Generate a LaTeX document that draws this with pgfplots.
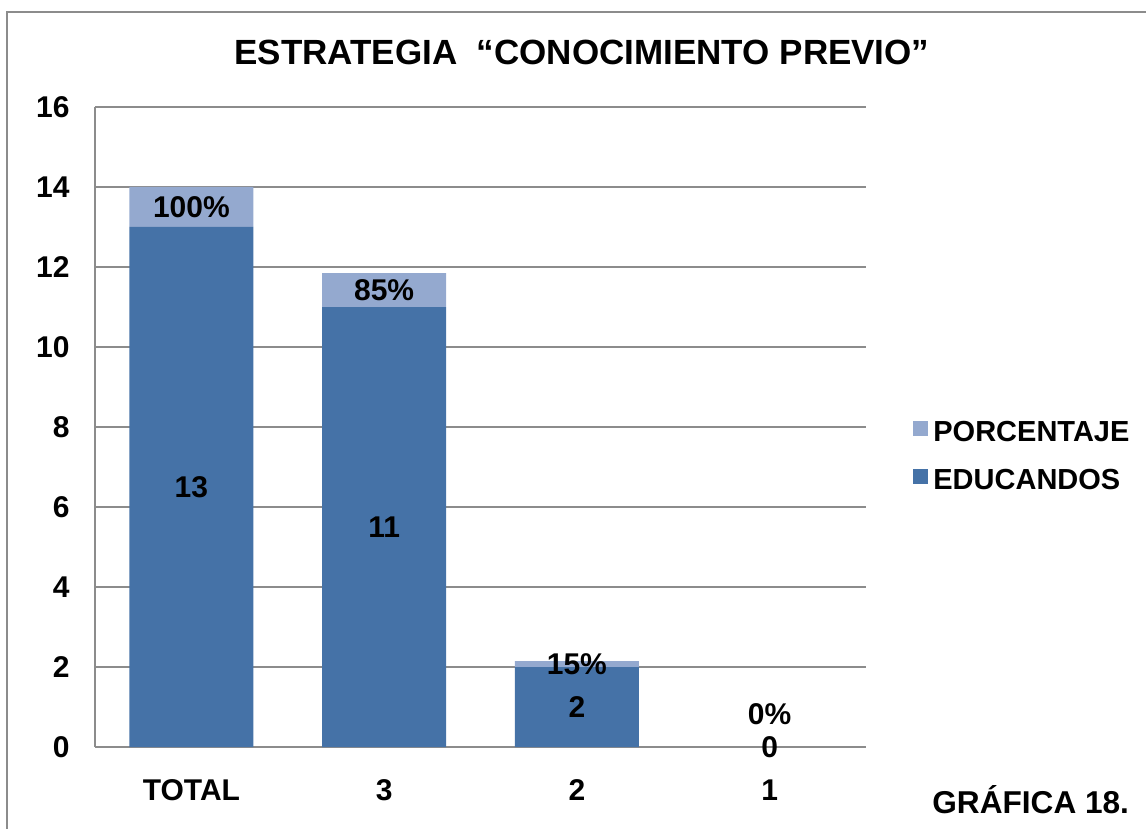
\documentclass[border=0pt]{standalone}
\usepackage{fontspec}
\setmainfont{Liberation Sans}
\usepackage{pgfplots}
\pgfplotsset{compat=1.18}
\definecolor{edu}{HTML}{4572A7}
\definecolor{por}{HTML}{94A9CF}
\definecolor{gridc}{HTML}{8C8C8C}

\begin{document}
\begin{tikzpicture}[font=\fontsize{15}{17}\selectfont\bfseries]
\path[use as bounding box] (0,0) rectangle (573pt,-414.5pt);
\draw[gridc, line width=1pt] (3.5pt,-414.5pt) -- (3.5pt,-6pt) -- (573pt,-6pt);
\node[font=\fontsize{17.5}{20}\selectfont\bfseries] at (291pt,-26pt) {ESTRATEGIA\ \ “CONOCIMIENTO PREVIO”};
\begin{axis}[
    at={(47.5pt,-373.5pt)}, anchor=south west,
    scale only axis, width=385.5pt, height=320pt,
    ybar stacked, bar width=62pt,
    xmin=-0.5, xmax=3.5, ymin=0, ymax=16,
    xtick={0,1,2,3}, xticklabels={TOTAL,3,2,1},
    ytick={0,2,...,16},
    axis lines*=left,
    axis line style={gridc, line width=0.6pt, -},
    ymajorgrids, grid style={gridc, line width=0.6pt},
    major tick length=0pt,
    tick label style={font=\fontsize{15}{17}\selectfont\bfseries},
    /pgf/number format/assume math mode=true,
    yticklabel style={anchor=base east, inner sep=0pt, xshift=-12.5pt, yshift=-5.3pt},
    xticklabel style={anchor=base, inner sep=0pt, yshift=-26.8pt},
    reverse legend,
    legend style={at={(1,0.455)}, anchor=west, xshift=23.5pt, yshift=-0.5pt, draw=none, fill=none,
        inner sep=0pt, nodes={inner sep=0pt},
        font=\fontsize{14.5}{16}\selectfont\bfseries,
        row sep=12.5pt, /tikz/every odd column/.style={column sep=2.5pt}},
    legend cell align=left,
    legend image code/.code={\fill[#1] (0pt,-1.5pt) rectangle (7.5pt,6pt);},
]
\addplot[fill=edu, draw=none] coordinates {(0,13) (1,11) (2,2) (3,0)};
\addplot[fill=por, draw=none] coordinates {(0,1) (1,0.85) (2,0.15) (3,0)};
\legend{EDUCANDOS, PORCENTAJE}
\coordinate (e0) at (axis cs:0,6.5);
\coordinate (e1) at (axis cs:1,5.5);
\coordinate (e2) at (axis cs:2,1);
\coordinate (e3) at (axis cs:3,0);
\coordinate (p0) at (axis cs:0,13.5);
\coordinate (p1) at (axis cs:1,11.425);
\coordinate (p2) at (axis cs:2,2.075);
\coordinate (p3) at (axis cs:3,0.825);
\end{axis}
\node at (e0) {13};
\node at (e1) {11};
\node at (e2) {2};
\node at (e3) {0};
\node at (p0) {100\%};
\node at (p1) {85\%};
\node at (p2) {15\%};
\node at (p3) {0\%};
\node[anchor=west, inner sep=0pt, font=\fontsize{15.8}{18}\selectfont\bfseries] at (466pt,-400pt) {GRÁFICA 18.};
\end{tikzpicture}
\end{document}
